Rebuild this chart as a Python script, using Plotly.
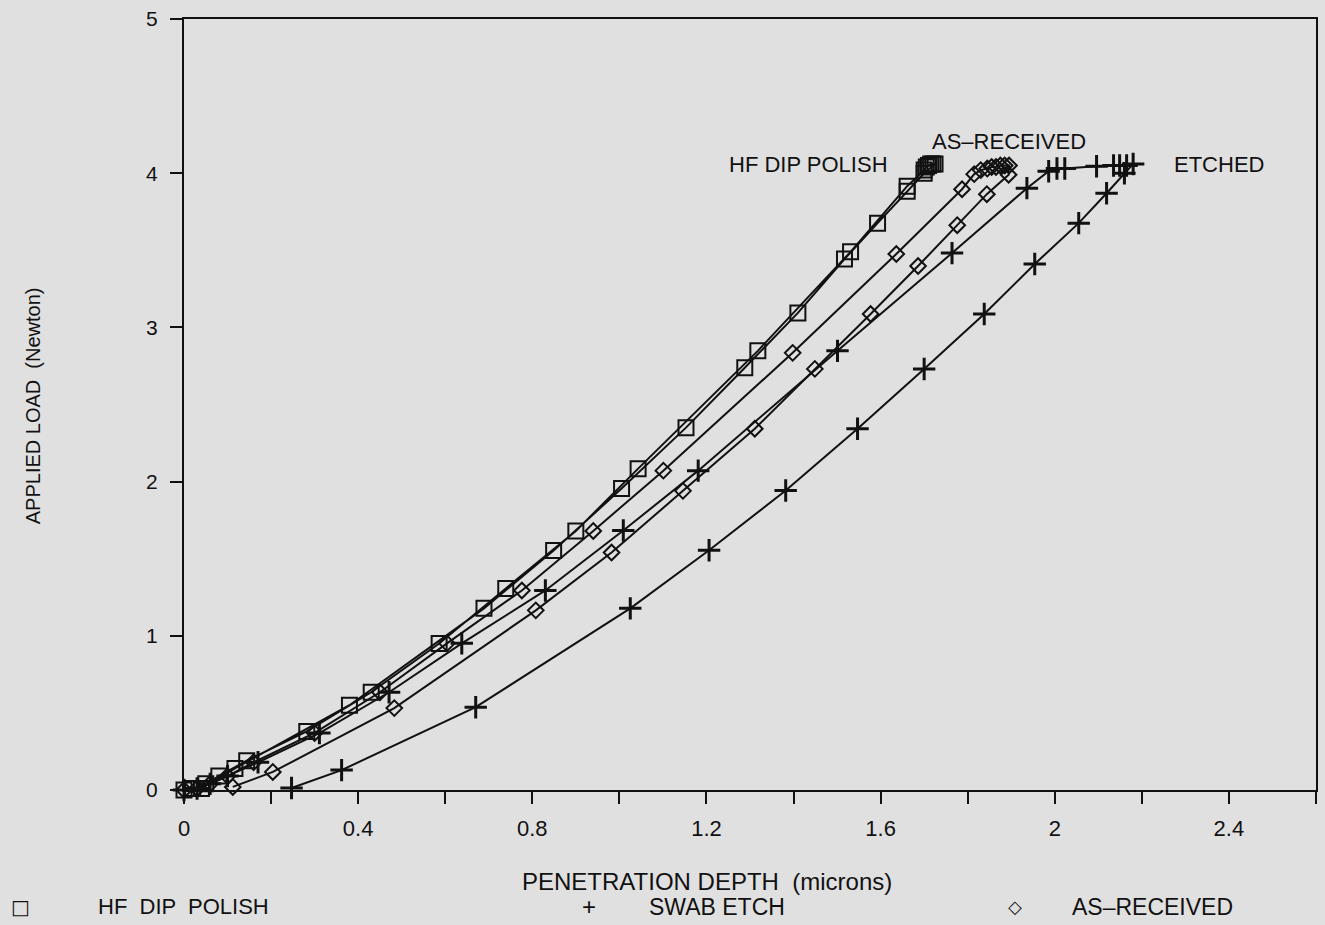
import plotly.graph_objects as go

# HF DIP POLISH (squares): loading, hold at max load, unloading
hf_depth = [0.0, 0.02, 0.05, 0.08, 0.144, 0.282, 0.43, 0.586, 0.739, 0.90, 1.043, 1.318, 1.531, 1.661,
            1.70, 1.705, 1.71, 1.715, 1.72, 1.725,
            1.70, 1.661, 1.593, 1.517, 1.41, 1.288, 1.153, 1.005, 0.849, 0.689, 0.38, 0.117, 0.04]
hf_load = [0.0, 0.01, 0.04, 0.09, 0.19, 0.38, 0.634, 0.95, 1.307, 1.68, 2.084, 2.848, 3.49, 3.916,
           4.02, 4.04, 4.05, 4.06, 4.06, 4.06,
           4.0, 3.883, 3.676, 3.443, 3.094, 2.738, 2.35, 1.955, 1.553, 1.178, 0.55, 0.14, 0.01]

# SWAB ETCH (plus)
se_depth = [0.0, 0.03, 0.06, 0.10, 0.17, 0.311, 0.471, 0.638, 0.83, 1.009, 1.181, 1.501, 1.764, 1.936,
            1.986, 2.005, 2.023, 2.096, 2.135, 2.149, 2.165, 2.18,
            2.16, 2.119, 2.055, 1.954, 1.838, 1.70, 1.547, 1.382, 1.206, 1.025, 0.670, 0.362, 0.247]
se_load = [0.0, 0.01, 0.04, 0.09, 0.18, 0.369, 0.634, 0.951, 1.294, 1.683, 2.071, 2.848, 3.482, 3.903,
           4.013, 4.03, 4.03, 4.045, 4.05, 4.05, 4.05, 4.06,
           4.0, 3.87, 3.676, 3.411, 3.087, 2.73, 2.343, 1.942, 1.555, 1.178, 0.537, 0.129, 0.013]

# AS-RECEIVED (diamonds)
ar_depth = [0.0, 0.03, 0.06, 0.10, 0.16, 0.30, 0.45, 0.604, 0.776, 0.94, 1.101, 1.398, 1.636, 1.787,
            1.815, 1.83, 1.845, 1.855, 1.865, 1.875, 1.885, 1.895,
            1.894, 1.844, 1.776, 1.686, 1.577, 1.449, 1.311, 1.146, 0.982, 0.808, 0.483, 0.204, 0.112]
ar_load = [0.0, 0.01, 0.04, 0.09, 0.18, 0.37, 0.634, 0.951, 1.294, 1.68, 2.071, 2.835, 3.476, 3.896,
           3.994, 4.02, 4.03, 4.04, 4.04, 4.05, 4.05, 4.05,
           3.99, 3.864, 3.663, 3.398, 3.087, 2.731, 2.343, 1.94, 1.54, 1.165, 0.531, 0.117, 0.02]

x_ticks = [0, 0.4, 0.8, 1.2, 1.6, 2.0, 2.4]
x_ticktext = ["0", "0.4", "0.8", "1.2", "1.6", "2", "2.4"]
y_ticks = [0, 1, 2, 3, 4, 5]

BG = "#e0e0e0"
INK = "#111111"

fig = go.Figure()
fig.add_trace(go.Scatter(x=hf_depth, y=hf_load, mode="lines+markers", name="HF DIP POLISH",
                         line=dict(color=INK, width=2),
                         marker=dict(symbol="square-open", size=15, color=INK, line=dict(width=2, color=INK)),
                         cliponaxis=False))
fig.add_trace(go.Scatter(x=se_depth, y=se_load, mode="lines+markers", name="SWAB ETCH",
                         line=dict(color=INK, width=2),
                         marker=dict(symbol="cross-thin-open", size=16, color=INK, line=dict(width=3, color=INK)),
                         cliponaxis=False))
fig.add_trace(go.Scatter(x=ar_depth, y=ar_load, mode="lines+markers", name="AS-RECEIVED",
                         line=dict(color=INK, width=2),
                         marker=dict(symbol="diamond-open", size=12, color=INK, line=dict(width=2, color=INK)),
                         cliponaxis=False))

label_font = dict(family="Liberation Sans, Arial, sans-serif", size=22, color=INK)
narrow_font = dict(family="Liberation Sans Narrow, Liberation Sans, Arial, sans-serif", size=23, color=INK)
tick_font_x = dict(family="Liberation Sans Narrow, Liberation Sans, Arial, sans-serif", size=22, color=INK)
tick_font_y = dict(family="Liberation Sans, Arial, sans-serif", size=21, color=INK)


def note(**kw):
    kw.setdefault("showarrow", False)
    kw.setdefault("xanchor", "center")
    kw.setdefault("yanchor", "middle")
    fig.add_annotation(**kw)


# curve labels
note(x=1.435, y=4.056, text="HF DIP POLISH", font=label_font)
note(x=1.896, y=4.204, text="AS\u2013RECEIVED", font=label_font)
note(x=2.378, y=4.056, text="ETCHED", font=label_font)

# axis titles
note(xref="paper", yref="paper", x=(708 - 184) / 1134, y=(790 - 882) / 773,
     text="PENETRATION DEPTH  (microns)",
     font=dict(family="Liberation Sans Narrow, Liberation Sans, Arial, sans-serif", size=24, color=INK))
note(xref="paper", yref="paper", x=(33 - 184) / 1134, y=(790 - 405) / 773,
     text="APPLIED LOAD  (Newton)", textangle=-90,
     font=dict(family="Liberation Sans, Arial, sans-serif", size=20, color=INK))

# legend row
ly = (790 - 907) / 773
note(xref="paper", yref="paper", x=(20 - 184) / 1134, y=ly, text="\u25a1",
     font=dict(family="DejaVu Sans", size=20, color=INK))
note(xref="paper", yref="paper", x=(96 - 184) / 1134, y=ly, xanchor="left",
     text="HF  DIP  POLISH", font=label_font)
note(xref="paper", yref="paper", x=(590 - 184) / 1134, y=ly, text="+",
     font=dict(family="Liberation Sans", size=24, color=INK))
note(xref="paper", yref="paper", x=(648 - 184) / 1134, y=ly, xanchor="left",
     text="SWAB ETCH", font=narrow_font)
note(xref="paper", yref="paper", x=(1016 - 184) / 1134, y=ly, text="\u25c7",
     font=dict(family="DejaVu Sans", size=18, color=INK))
note(xref="paper", yref="paper", x=(1072 - 184) / 1134, y=ly, xanchor="left",
     text="AS\u2013RECEIVED", font=narrow_font)

fig.update_layout(
    width=1325, height=925,
    margin=dict(l=184, r=7, t=17, b=135),
    paper_bgcolor=BG, plot_bgcolor=BG,
    showlegend=False,
    xaxis=dict(range=[0, 2.6], tickvals=x_ticks, ticktext=x_ticktext,
               ticks="outside", ticklen=12, tickwidth=2, tickcolor=INK,
               minor=dict(dtick=0.2, tick0=0, ticks="outside", ticklen=12, tickwidth=2, tickcolor=INK),
               showline=True, linewidth=2, linecolor=INK, mirror=True,
               showgrid=False, zeroline=False, tickfont=tick_font_x, ticklabelstandoff=6),
    yaxis=dict(range=[0, 5], tickvals=y_ticks, ticks="outside", ticklen=12, tickwidth=2, tickcolor=INK,
               showline=True, linewidth=2, linecolor=INK, mirror=True,
               showgrid=False, zeroline=False, tickfont=tick_font_y, ticklabelstandoff=8),
)

fig.write_html("out.html")
